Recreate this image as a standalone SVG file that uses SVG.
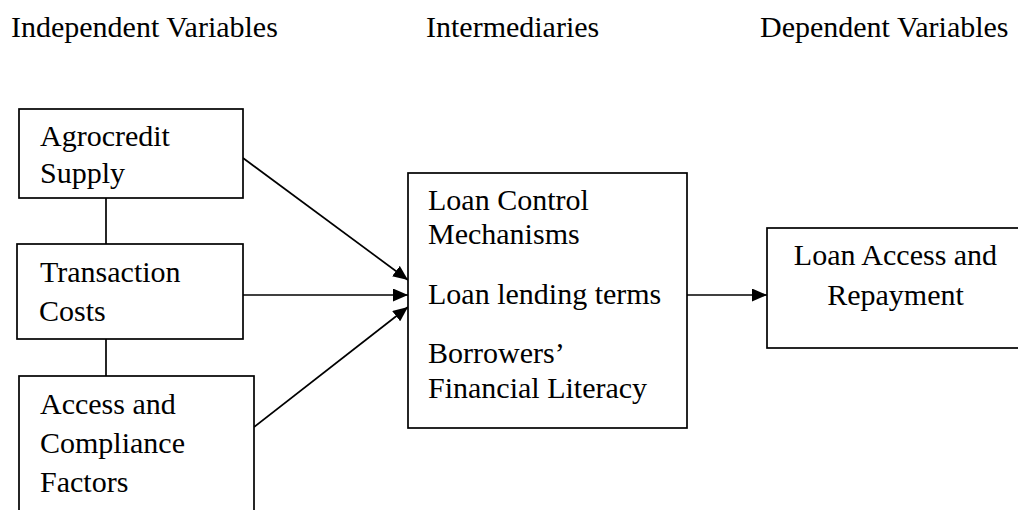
<svg xmlns="http://www.w3.org/2000/svg" width="1018" height="510" viewBox="0 0 1018 510">
<style>
text{font-family:"Liberation Serif","Times New Roman",serif;font-size:30px;fill:#000}
.box{fill:#fff;stroke:#000;stroke-width:1.7}
.ln{stroke:#000;stroke-width:1.7;fill:none}
</style>
<defs>
<marker id="ah" markerWidth="15" markerHeight="13" refX="15" refY="6.5" orient="auto" markerUnits="userSpaceOnUse">
<path d="M0,0 L15,6.5 L0,13 z" fill="#000"/>
</marker>
</defs>
<rect width="1018" height="510" fill="#fff"/>
<g id="headings">
<text x="11" y="37">Independent Variables</text>
<text x="426" y="37">Intermediaries</text>
<text x="760" y="37">Dependent Variables</text>
</g>
<g id="connectors">
<line class="ln" x1="106" y1="198" x2="106" y2="244"/>
<line class="ln" x1="106" y1="339" x2="106" y2="376"/>
<line class="ln" x1="243" y1="158" x2="408" y2="280" marker-end="url(#ah)"/>
<line class="ln" x1="243" y1="295" x2="408" y2="295" marker-end="url(#ah)"/>
<line class="ln" x1="254" y1="427" x2="408" y2="307" marker-end="url(#ah)"/>
<line class="ln" x1="687" y1="295" x2="767" y2="295" marker-end="url(#ah)"/>
</g>
<g id="agrocredit">
<rect class="box" x="19" y="109" width="224" height="89"/>
<text x="40" y="146">Agrocredit</text>
<text x="40" y="183">Supply</text>
</g>
<g id="transaction">
<rect class="box" x="17" y="244" width="226" height="95"/>
<text x="40" y="282">Transaction</text>
<text x="39" y="321">Costs</text>
</g>
<g id="access">
<rect class="box" x="19" y="376" width="235" height="160"/>
<text x="40" y="414">Access and</text>
<text x="40" y="453">Compliance</text>
<text x="40" y="492">Factors</text>
</g>
<g id="intermediaries">
<rect class="box" x="408" y="173" width="279" height="255"/>
<text x="428" y="210">Loan Control</text>
<text x="428" y="244">Mechanisms</text>
<text x="428" y="304">Loan lending terms</text>
<text x="428" y="363">Borrowers’</text>
<text x="428" y="398">Financial Literacy</text>
</g>
<g id="outcome">
<rect class="box" x="767" y="228" width="270" height="120"/>
<text x="895.5" y="265" text-anchor="middle">Loan Access and</text>
<text x="895.5" y="305" text-anchor="middle">Repayment</text>
</g>
</svg>
